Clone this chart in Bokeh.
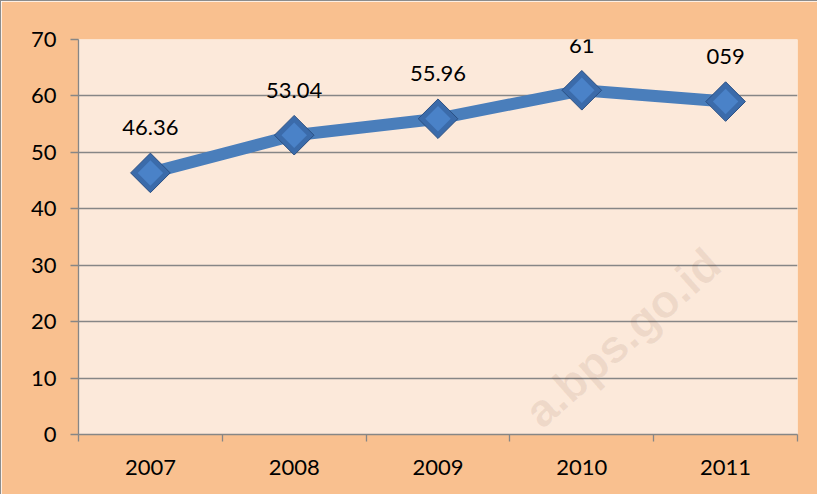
import math
from bokeh.plotting import figure
from bokeh.models import Range1d, FixedTicker, ColumnDataSource, Label
from bokeh.core.properties import value
from bokeh.embed import file_html
from bokeh.resources import INLINE

years = ["2007", "2008", "2009", "2010", "2011"]
values = [46.36, 53.04, 55.96, 61, 59]
value_labels = ["46.36", "53.04", "55.96", "61", "059"]
y_ticks = [0, 10, 20, 30, 40, 50, 60, 70]

xs = [i + 0.5 for i in range(len(years))]
src = ColumnDataSource(dict(x=xs, y=values, lab=value_labels))

p = figure(width=817, height=494, output_backend="svg", toolbar_location=None,
           x_range=Range1d(0, len(years)), y_range=Range1d(0, 70),
           min_border_left=77, min_border_top=38, min_border_right=21, min_border_bottom=61)
p.border_fill_color = "#F9C08F"
p.background_fill_color = "#FCE9DA"
p.outline_line_color = None
p.styles = {"border-left": "1px solid #8c8c8c", "border-top": "1px solid #8c8c8c"}

FONT = "Lato"
grey = "#868686"

# y axis
p.yaxis.ticker = FixedTicker(ticks=y_ticks)
p.yaxis.axis_line_color = grey
p.yaxis.axis_line_width = 1.3
p.yaxis.major_tick_line_color = grey
p.yaxis.major_tick_line_width = 1.3
p.yaxis.major_tick_out = 8
p.yaxis.major_tick_in = 0
p.yaxis.minor_tick_line_color = None
p.yaxis.major_label_text_font = FONT
p.yaxis.major_label_text_font_size = "22px"
p.yaxis.major_label_text_color = "#000000"
p.yaxis.major_label_standoff = 14

# x axis
p.xaxis.ticker = FixedTicker(ticks=xs, minor_ticks=list(range(len(years) + 1)))
p.xaxis.major_label_overrides = {x: y for x, y in zip(xs, years)}
p.xaxis.axis_line_color = grey
p.xaxis.axis_line_width = 1.3
p.xaxis.major_tick_line_color = None
p.xaxis.major_tick_out = 0
p.xaxis.major_tick_in = 0
p.xaxis.minor_tick_line_color = grey
p.xaxis.minor_tick_line_width = 1.3
p.xaxis.minor_tick_out = 7
p.xaxis.minor_tick_in = 0
p.xaxis.major_label_text_font = FONT
p.xaxis.major_label_text_font_size = "22px"
p.xaxis.major_label_text_color = "#000000"
p.xaxis.major_label_standoff = 18

p.xgrid.grid_line_color = None
p.ygrid.ticker = FixedTicker(ticks=y_ticks)
p.ygrid.grid_line_color = grey
p.ygrid.grid_line_width = 1.3

# line
p.line("x", "y", source=src, line_color="#4A7EBB", line_width=12)

# beveled diamond markers
p.scatter("x", "y", source=src, marker="square", angle=math.pi / 4, size=28,
          fill_color="#3B6BAA", line_color="#2A4F82", line_width=1)
p.scatter("x", "y", source=src, marker="square", angle=math.pi / 4, size=18,
          fill_color="#4A82C8", line_color=None)

# data labels
p.text("x", "y", text="lab", source=src, y_offset=-45, text_align="center",
       text_baseline="middle", text_font=value(FONT), text_font_size="22px",
       text_color="#000000")

# watermark (kept inside the plot frame, where Bokeh clips it)
wm = Label(x=620, y=335, x_units="canvas", y_units="canvas", text="a.bps.go.id",
           angle=math.radians(41.5), text_align="center", text_baseline="middle",
           text_font="Liberation Sans", text_font_style="bold", text_font_size="46px",
           text_color="#6B3A1E", text_alpha=0.09)
p.add_layout(wm)

open("out.html", "w").write(file_html(p, INLINE))
